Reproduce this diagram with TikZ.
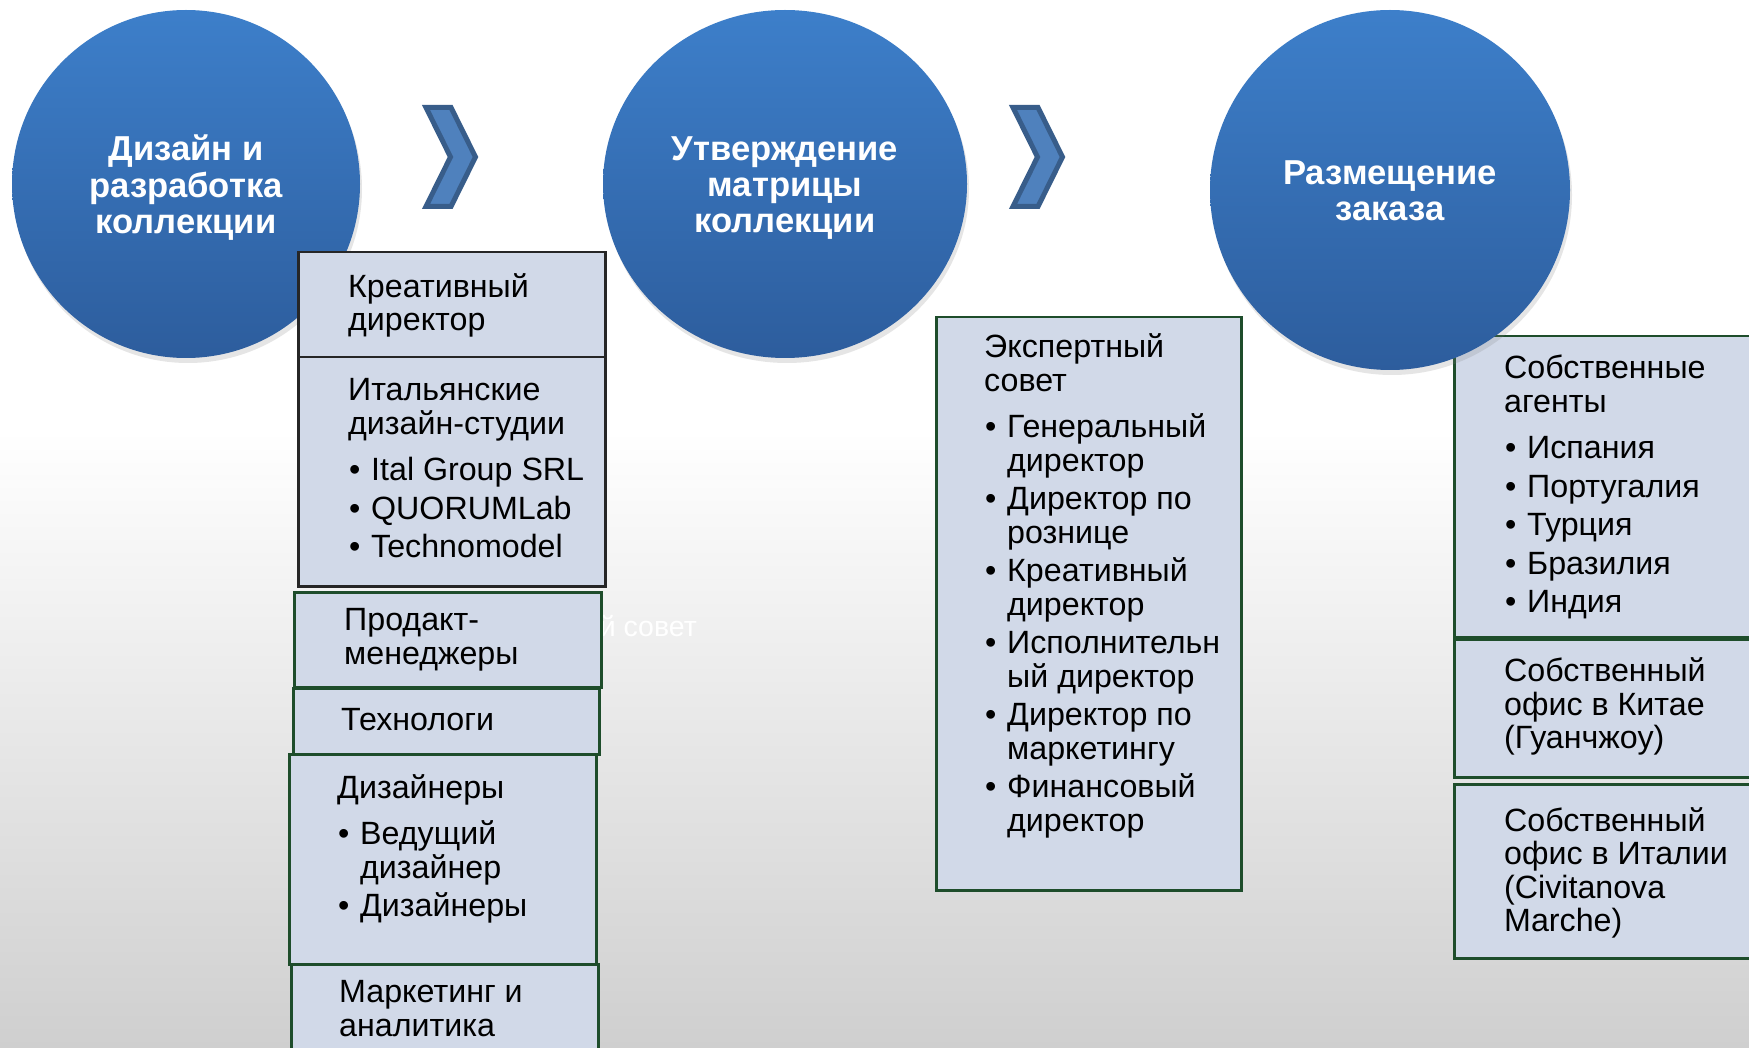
\documentclass[tikz,border=0pt]{standalone}
\usepackage{fontspec}
\setmainfont{Liberation Sans}
\usetikzlibrary{shapes.geometric,shadows,positioning}

\definecolor{cardfill}{RGB}{209,217,232}
\definecolor{cardgreen}{RGB}{30,77,43}
\definecolor{cardgray}{RGB}{38,38,38}
\definecolor{stagetop}{RGB}{61,127,202}
\definecolor{stagebot}{RGB}{45,93,157}
\definecolor{chevfill}{RGB}{79,129,189}
\definecolor{chevline}{RGB}{56,93,138}
\definecolor{bgbot}{RGB}{207,207,207}

\newcommand{\cardfont}{\fontsize{32.2}{33.5}\selectfont}
\newcommand{\stagefont}{\fontsize{34.6}{36}\selectfont\bfseries}
\newcommand{\bul}[1]{\makebox[23pt][l]{\hspace{1pt}•}#1}
\newcommand{\nob}[1]{\hspace*{23pt}#1}
% stage caption, pushed down a little without changing its size
\newcommand{\stagetext}[2][5.6pt]{\raisebox{-#1}[\height][\depth]{\begin{tabular}{@{}c@{}}#2\end{tabular}}}

\tikzset{
  stage/.style={ellipse, inner sep=0pt, top color=stagetop, bottom color=stagebot,
    text=white, align=center, font=\stagefont,
    drop shadow={opacity=.2, shadow xshift=2pt, shadow yshift=-5pt}},
  card/.style={draw=cardgreen, fill=cardfill, line width=2.5pt, anchor=north west, inner sep=0pt},
  cardtext/.style={anchor=west, align=left, inner sep=0pt, font=\cardfont},
  chev/.style={fill=chevfill, draw=chevline, line width=5pt, line join=miter},
}

\begin{document}
\begin{tikzpicture}[x=1pt,y=-1pt]
  \useasboundingbox (0,0) rectangle (1749,1048);
  \clip (0,0) rectangle (1749,1048);
  % background
  \fill[white] (0,0) rectangle (1749,430);
  \shade[top color=white, bottom color=bgbot] (0,430) rectangle (1749,1048);

  % stages
  \node[stage, minimum width=348, minimum height=348] (design) at (186,184) {\stagetext{Дизайн и\\разработка\\коллекции}};
  \node[stage, minimum width=364, minimum height=348] (matrix) at (785,184) {\stagetext{Утверждение\\матрицы\\коллекции}};

  \foreach \dx in {0,587}
    \draw[chev, xshift=\dx] (426,107.5) -- (451,107.5) -- (475.5,157) -- (451,206.5)
      -- (426,206.5) -- (450.5,157) -- cycle;

  \node[cardtext, anchor=base east, text=white, font=\fontsize{28.5}{31}\selectfont] (ghost) at (697,636) {Экспертный совет};

  % design team
  \node[card, draw=cardgray, minimum width=307, minimum height=105] (kreat) at (297,251) {};
  \node[card, draw=cardgray, minimum width=307, minimum height=229] (ital) at (297,356) {};
  \node[card, minimum width=307, minimum height=95] (prod) at (293,591) {};
  \node[card, minimum width=306, minimum height=66] (tech) at (292,687) {};
  \node[card, minimum width=307, minimum height=210] (designers) at (288,753) {};
  \node[card, minimum width=307, minimum height=120] (market) at (290,963) {};

  \node[cardtext] (kreat-t) at (348,305.5) {Креативный\\директор};
  \node[cardtext] (ital-t) at (348,468.5) {Итальянские\\дизайн-студии\\[13pt]
    \bul{Ital Group SRL}\\[5pt]\bul{QUORUMLab}\\[5pt]\bul{Technomodel}};
  \node[cardtext] (prod-t) at (344,640) {Продакт-\\менеджеры};
  \node[cardtext] (tech-t) at (341,720) {Технологи};
  \node[cardtext] (designers-t) at (337,849) {Дизайнеры\\[13pt]
    \bul{Ведущий}\\\nob{дизайнер}\\[5pt]\bul{Дизайнеры}};
  \node[cardtext] (market-t) at (339,1008.5) {Маркетинг и\\аналитика};

  % expert council
  \node[card, minimum width=305, minimum height=573] (council) at (935,316) {};
  \node[cardtext] (council-t) at (984,586) {Экспертный\\совет\\[13pt]
    \bul{Генеральный}\\\nob{директор}\\[5pt]
    \bul{Директор по}\\\nob{рознице}\\[5pt]
    \bul{Креативный}\\\nob{директор}\\[5pt]
    \bul{Исполнительн}\\\nob{ый директор}\\[5pt]
    \bul{Директор по}\\\nob{маркетингу}\\[5pt]
    \bul{Финансовый}\\\nob{директор}};

  % orders
  \node[card, minimum width=320, minimum height=301] (agents) at (1453,335) {};
  \node[card, minimum width=320, minimum height=138] (china) at (1453,638) {};
  \node[card, minimum width=320, minimum height=174] (italy) at (1453,783) {};

  \node[cardtext] (agents-t) at (1504,487) {Собственные\\агенты\\[13pt]
    \bul{Испания}\\[5pt]\bul{Португалия}\\[5pt]\bul{Турция}\\[5pt]
    \bul{Бразилия}\\[5pt]\bul{Индия}};
  \node[cardtext] (china-t) at (1504,706.5) {Собственный\\офис в Китае\\(Гуанчжоу)};
  \node[cardtext] (italy-t) at (1504,873) {Собственный\\офис в Италии\\(Civitanova\\Marche)};

  \node[stage, minimum width=360, minimum height=360] (order) at (1390,190) {\stagetext{Размещение\\заказа}};
\end{tikzpicture}
\end{document}
